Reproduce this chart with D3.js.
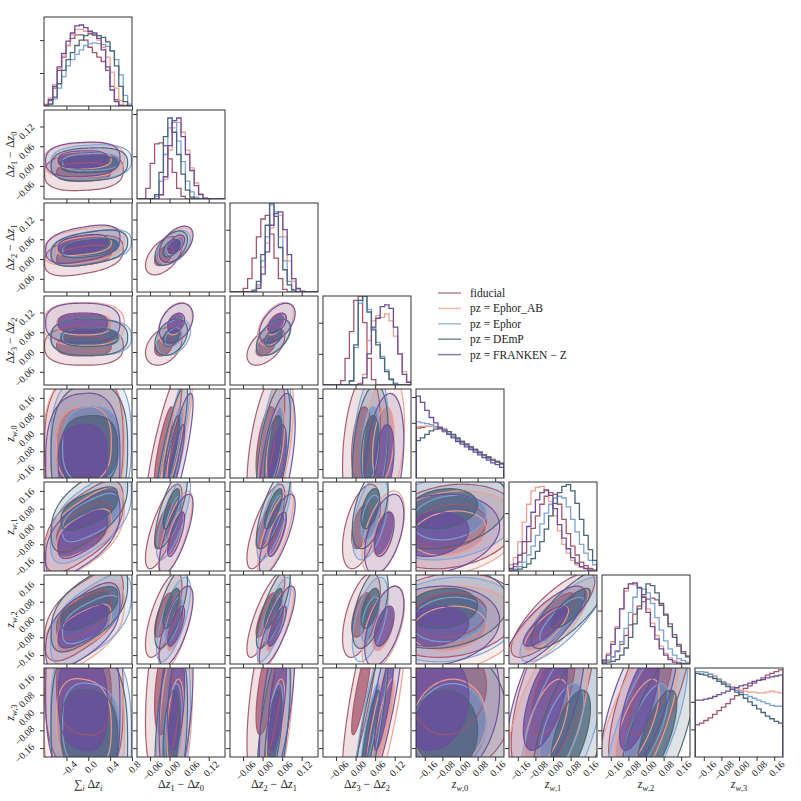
<!DOCTYPE html>
<html>
<head>
<meta charset="utf-8">
<script src="https://cdnjs.cloudflare.com/ajax/libs/d3/7.8.5/d3.min.js"></script>
<style>
  body { margin: 0; background: #fff; }
  text { font-family: "Liberation Serif", "DejaVu Serif", serif; fill: #222; }
</style>
</head>
<body>
<svg id="chart" width="801" height="801"></svg>
<script>
// series, in the order they were drawn (last one on top)
var seriesNames = ["fiducial", "pz = Ephor_AB", "pz = Ephor", "pz = DEmP", "pz = FRANKEN \u2212 Z"];
var seriesColors = ["#a4556b", "#ef9f8f", "#7ba3d6", "#4b6476", "#6a4e9c"];

// parameter ranges and ticks
var domains = [[-0.81, 0.8], [-0.1, 0.17], [-0.1, 0.17], [-0.1, 0.17],
               [-0.2, 0.2], [-0.2, 0.2], [-0.2, 0.2], [-0.2, 0.2]];
var ticksSum = [-0.4, 0.0, 0.4, 0.8];
var ticksDz = [-0.06, 0.0, 0.06, 0.12];
var ticksZw = [-0.16, -0.08, 0.0, 0.08, 0.16];
var diagTicks = [[0.37, 0.74], [0.48, 0.955], [0.35, 0.7], [0.35, 0.7],
                 [0.3, 0.62, 0.91], [0.34, 0.65], [0.3, 0.6], [0.31, 0.62]];

// 1D histograms, 20 bins over each range, height as fraction of panel
// rows: fiducial, Ephor_AB, Ephor, DEmP, FRANKEN-Z
var hist0 = [
  [0.01,0.06,0.2,0.4,0.55,0.68,0.76,0.8,0.8,0.74,0.66,0.6,0.55,0.5,0.4,0.22,0.07,0.01,0,0],
  [0.02,0.09,0.24,0.42,0.56,0.68,0.8,0.86,0.86,0.84,0.82,0.79,0.74,0.66,0.55,0.38,0.2,0.06,0.01,0],
  [0,0.02,0.08,0.2,0.33,0.45,0.52,0.58,0.63,0.68,0.7,0.71,0.7,0.69,0.67,0.62,0.52,0.35,0.12,0.02],
  [0,0.02,0.1,0.25,0.4,0.52,0.6,0.68,0.74,0.79,0.81,0.8,0.79,0.77,0.72,0.62,0.45,0.22,0.05,0],
  [0.01,0.07,0.22,0.44,0.59,0.73,0.82,0.9,0.91,0.88,0.84,0.82,0.76,0.63,0.44,0.18,0.05,0,0,0]];
var hist1 = [
  [0,0,0.12,0.4,0.62,0.63,0.6,0.45,0.3,0.12,0.03,0,0,0,0,0,0,0,0,0],
  [0,0,0,0,0,0.04,0.22,0.55,0.8,0.86,0.75,0.55,0.35,0.18,0.06,0.01,0,0,0,0],
  [0,0,0,0,0.03,0.2,0.5,0.8,0.86,0.65,0.42,0.2,0.08,0.02,0,0,0,0,0,0],
  [0,0,0,0,0.05,0.3,0.7,0.91,0.75,0.5,0.28,0.1,0.02,0,0,0,0,0,0,0],
  [0,0,0,0,0,0.05,0.25,0.6,0.88,0.91,0.7,0.5,0.32,0.15,0.05,0.01,0,0,0,0]];
var hist2 = [
  [0,0,0,0.04,0.15,0.38,0.62,0.82,0.86,0.65,0.38,0.15,0.03,0,0,0,0,0,0,0],
  [0,0,0,0,0,0,0.06,0.28,0.55,0.72,0.9,0.86,0.62,0.35,0.12,0.03,0,0,0,0],
  [0,0,0,0,0,0,0.08,0.35,0.62,0.98,0.9,0.62,0.35,0.12,0.03,0,0,0,0,0],
  [0,0,0,0,0,0.02,0.12,0.42,0.75,1.0,0.85,0.5,0.25,0.08,0.02,0,0,0,0,0],
  [0,0,0,0,0,0,0.04,0.2,0.45,0.75,0.88,0.9,0.7,0.42,0.15,0.04,0.01,0,0,0]];
var hist3 = [
  [0,0,0,0,0.05,0.3,0.6,0.95,1.0,0.7,0.3,0.06,0,0,0,0,0,0,0,0],
  [0,0,0,0,0,0,0,0,0.02,0.12,0.5,0.72,0.78,0.76,0.8,0.72,0.55,0.35,0.15,0.04],
  [0,0,0,0,0,0,0.04,0.42,0.92,1.0,0.85,0.64,0.48,0.32,0.17,0.07,0.02,0,0,0],
  [0,0,0,0,0,0,0.05,0.45,0.95,1.0,0.82,0.62,0.45,0.3,0.15,0.06,0.01,0,0,0],
  [0,0,0,0,0,0,0,0,0.01,0.08,0.35,0.65,0.75,0.88,0.9,0.86,0.65,0.35,0.12,0.03]];
var hist4 = [
  [0.56,0.57,0.58,0.58,0.57,0.55,0.52,0.5,0.47,0.44,0.41,0.38,0.35,0.32,0.29,0.26,0.24,0.21,0.19,0.17],
  [0.58,0.58,0.58,0.58,0.57,0.55,0.52,0.49,0.46,0.43,0.4,0.37,0.34,0.31,0.28,0.26,0.23,0.21,0.19,0.17],
  [0.63,0.62,0.61,0.6,0.58,0.56,0.53,0.5,0.47,0.43,0.4,0.37,0.34,0.31,0.28,0.25,0.22,0.2,0.18,0.16],
  [0.42,0.45,0.49,0.53,0.55,0.56,0.55,0.52,0.49,0.45,0.41,0.38,0.35,0.32,0.29,0.26,0.23,0.2,0.18,0.16],
  [0.92,0.85,0.76,0.68,0.62,0.57,0.53,0.49,0.45,0.41,0.38,0.35,0.32,0.29,0.26,0.23,0.2,0.17,0.15,0.12]];
var hist5 = [
  [0.02,0.05,0.1,0.2,0.33,0.48,0.62,0.75,0.84,0.88,0.86,0.75,0.58,0.42,0.28,0.18,0.1,0.06,0.03,0.01],
  [0.07,0.15,0.33,0.55,0.75,0.9,0.94,0.95,0.9,0.78,0.62,0.45,0.3,0.2,0.12,0.07,0.04,0.02,0.01,0],
  [0.01,0.02,0.05,0.1,0.18,0.28,0.4,0.53,0.65,0.75,0.82,0.84,0.82,0.72,0.58,0.44,0.3,0.2,0.12,0.07],
  [0,0.01,0.02,0.04,0.08,0.14,0.22,0.33,0.47,0.62,0.76,0.88,0.95,0.97,0.9,0.76,0.58,0.4,0.24,0.12],
  [0.03,0.08,0.18,0.33,0.5,0.66,0.8,0.88,0.91,0.85,0.7,0.52,0.37,0.25,0.15,0.09,0.05,0.03,0.01,0]];
var hist6 = [
  [0.02,0.04,0.08,0.14,0.22,0.32,0.44,0.56,0.65,0.7,0.73,0.74,0.72,0.66,0.56,0.45,0.33,0.22,0.14,0.09],
  [0.05,0.12,0.25,0.42,0.62,0.82,0.9,0.89,0.85,0.76,0.62,0.46,0.32,0.2,0.12,0.07,0.04,0.02,0.01,0],
  [0.02,0.04,0.08,0.15,0.25,0.4,0.58,0.75,0.85,0.84,0.8,0.68,0.52,0.38,0.26,0.17,0.1,0.06,0.04,0.02],
  [0.01,0.02,0.03,0.05,0.1,0.18,0.3,0.45,0.62,0.78,0.9,0.88,0.8,0.68,0.55,0.42,0.3,0.2,0.12,0.08],
  [0.04,0.1,0.22,0.4,0.62,0.85,0.9,0.91,0.86,0.75,0.58,0.42,0.28,0.17,0.1,0.05,0.02,0.01,0,0]];
var hist7 = [
  [0.36,0.38,0.41,0.44,0.48,0.52,0.56,0.6,0.65,0.69,0.73,0.77,0.8,0.83,0.86,0.89,0.92,0.94,0.96,0.98],
  [0.96,0.96,0.95,0.93,0.91,0.88,0.85,0.82,0.79,0.77,0.75,0.74,0.73,0.73,0.72,0.72,0.73,0.74,0.73,0.72],
  [0.96,0.96,0.95,0.93,0.9,0.87,0.84,0.81,0.78,0.75,0.72,0.7,0.68,0.66,0.64,0.62,0.6,0.58,0.57,0.57],
  [0.94,0.93,0.92,0.9,0.88,0.85,0.82,0.79,0.76,0.73,0.7,0.66,0.62,0.58,0.54,0.5,0.46,0.43,0.4,0.38],
  [0.64,0.64,0.65,0.66,0.68,0.7,0.72,0.74,0.76,0.78,0.8,0.81,0.83,0.85,0.86,0.87,0.89,0.9,0.91,0.92]];
var hists = [hist0, hist1, hist2, hist3, hist4, hist5, hist6, hist7];

// 2D contours: centre, 1-sigma and 2-sigma half extents per parameter (one value per series)
var centers = [
  [-0.08, -0.08, 0.05, 0.02, -0.1],
  [-0.018, 0.018, 0.012, 0.005, 0.02],
  [0.01, 0.04, 0.035, 0.033, 0.045],
  [0.018, 0.085, 0.045, 0.045, 0.088],
  [-0.05, -0.05, -0.05, -0.08, -0.12],
  [0.0, -0.03, 0.04, 0.08, -0.035],
  [0.02, -0.04, 0.0, 0.05, -0.03],
  [0.1, -0.05, -0.07, -0.1, 0.05]];
var innerR = [
  [0.5, 0.5, 0.52, 0.52, 0.45],
  [0.028, 0.026, 0.026, 0.025, 0.026],
  [0.03, 0.028, 0.027, 0.027, 0.028],
  [0.03, 0.033, 0.028, 0.028, 0.03],
  [0.17, 0.17, 0.17, 0.16, 0.16],
  [0.1, 0.1, 0.1, 0.09, 0.1],
  [0.1, 0.1, 0.1, 0.09, 0.09],
  [0.2, 0.2, 0.2, 0.2, 0.22]];
var outerR = [
  [0.72, 0.74, 0.74, 0.7, 0.68],
  [0.056, 0.052, 0.052, 0.05, 0.052],
  [0.058, 0.055, 0.052, 0.052, 0.055],
  [0.058, 0.065, 0.055, 0.055, 0.06],
  [0.32, 0.32, 0.32, 0.3, 0.3],
  [0.19, 0.19, 0.19, 0.18, 0.18],
  [0.19, 0.19, 0.19, 0.18, 0.18],
  [0.4, 0.4, 0.4, 0.4, 0.4]];
// correlation for each pair, row j = 1..7, column i < j
var rhoRows = [
  [0.1],
  [0.35, 0.5],
  [0.0, 0.35, 0.5],
  [0.05, 0.85, 0.55, 0.3],
  [0.6, 0.75, 0.75, 0.5, 0.2],
  [0.6, 0.7, 0.8, 0.55, 0.15, 0.8],
  [-0.1, 0.35, 0.6, 0.85, 0.1, 0.6, 0.7]];
var squareness = [0.75, 1, 1, 1, 1, 1, 1, 1];

var paramLabels = [
  [{t: "\u2211"}, {t: "i", s: 1, it: 1}, {t: " \u0394"}, {t: "z", it: 1}, {t: "i", s: 1, it: 1}],
  [{t: "\u0394"}, {t: "z", it: 1}, {t: "1", s: 1}, {t: " \u2212 \u0394"}, {t: "z", it: 1}, {t: "0", s: 1}],
  [{t: "\u0394"}, {t: "z", it: 1}, {t: "2", s: 1}, {t: " \u2212 \u0394"}, {t: "z", it: 1}, {t: "1", s: 1}],
  [{t: "\u0394"}, {t: "z", it: 1}, {t: "3", s: 1}, {t: " \u2212 \u0394"}, {t: "z", it: 1}, {t: "2", s: 1}],
  [{t: "z", it: 1}, {t: "w", s: 1, it: 1}, {t: ",0", s: 1}],
  [{t: "z", it: 1}, {t: "w", s: 1, it: 1}, {t: ",1", s: 1}],
  [{t: "z", it: 1}, {t: "w", s: 1, it: 1}, {t: ",2", s: 1}],
  [{t: "z", it: 1}, {t: "w", s: 1, it: 1}, {t: ",3", s: 1}]];

// layout
var nP = 8, x0 = 44, y0 = 17, step = 93, pw = 88, ph = 89;
var tickSets = [ticksSum, ticksDz, ticksDz, ticksDz, ticksZw, ticksZw, ticksZw, ticksZw];
var fmts = [d3.format(".1f")].concat(d3.range(7).map(function() { return d3.format(".2f"); }));

var svg = d3.select("#chart");
var defs = svg.append("defs");

var xScales = domains.map(function(d, i) {
  return d3.scaleLinear().domain(d).range([x0 + i * step, x0 + i * step + pw]);
});
var yScales = domains.map(function(d, j) {
  return d3.scaleLinear().domain(d).range([y0 + j * step + ph, y0 + j * step]);
});

function richText(sel, segs, size) {
  var shift = 0;
  segs.forEach(function(g) {
    var target = g.s ? size * 0.28 : 0;
    sel.append("tspan")
      .attr("dy", target - shift)
      .attr("font-size", g.s ? size * 0.7 : size)
      .attr("font-style", g.it ? "italic" : "normal")
      .text(g.t);
    shift = target;
  });
}

function ellipsePts(i, j, s, radii) {
  var rr = rhoRows[j - 1][i];
  var e = Math.min(squareness[i], squareness[j]);
  var pow = function(a) { return Math.sign(a) * Math.pow(Math.abs(a), e); };
  return d3.range(120).map(function(k) {
    var t = k / 120 * 2 * Math.PI;
    var u = pow(Math.cos(t)), w = pow(Math.sin(t));
    var v = rr * u + Math.sqrt(1 - rr * rr) * w;
    return [xScales[i](centers[i][s] + radii[i][s] * u),
            yScales[j](centers[j][s] + radii[j][s] * v)];
  });
}

var closedLine = d3.line().curve(d3.curveCardinalClosed.tension(0.3));

function drawContours(body, i, j) {
  var fills = body.append("g");
  var lines = body.append("g");
  seriesNames.forEach(function(name, s) {
    var outer = closedLine(ellipsePts(i, j, s, outerR));
    var inner = closedLine(ellipsePts(i, j, s, innerR));
    // ring between the two levels, then the core
    fills.append("path").attr("d", outer + inner)
      .attr("fill-rule", "evenodd")
      .attr("fill", seriesColors[s]).attr("fill-opacity", 0.18);
    fills.append("path").attr("d", inner)
      .attr("fill", seriesColors[s]).attr("fill-opacity", 0.8);
    [outer, inner].forEach(function(d) {
      lines.append("path").attr("d", d)
        .attr("fill", "none").attr("stroke", seriesColors[s])
        .attr("stroke-width", 1.2).attr("stroke-opacity", 0.95);
    });
  });
}

function drawHist(body, i, hy) {
  var dom = domains[i];
  var edges = d3.range(21).map(function(k) { return dom[0] + k * (dom[1] - dom[0]) / 20; });
  hists[i].forEach(function(h, s) {
    var pts = [[edges[0], 0]];
    h.forEach(function(v, k) { pts.push([edges[k], v]); pts.push([edges[k + 1], v]); });
    pts.push([edges[20], 0]);
    body.append("path")
      .attr("d", d3.line().x(function(p) { return xScales[i](p[0]); }).y(function(p) { return hy(p[1]); })(pts))
      .attr("fill", "none").attr("stroke", seriesColors[s]).attr("stroke-width", 1.3);
  });
}

function rotatedLabels(ax, place) {
  ax.selectAll(".tick text").each(function() {
    var t = d3.select(this);
    t.attr("x", null).attr("y", null).attr("dy", "0.35em")
      .attr("text-anchor", "middle");
    var len = this.getComputedTextLength();
    var w = (len + 7) * Math.SQRT1_2;
    var p = place(w);
    t.attr("transform", "translate(" + p[0] + "," + p[1] + ") rotate(-45)");
  });
}

function drawPanel(i, j) {
  var px = x0 + i * step, py = y0 + j * step;
  var g = svg.append("g");
  var clipId = "clip" + j + "_" + i;
  defs.append("clipPath").attr("id", clipId).append("rect")
    .attr("x", px).attr("y", py).attr("width", pw).attr("height", ph);
  var body = g.append("g").attr("clip-path", "url(#" + clipId + ")");

  var yAxisScale;
  if (i === j) {
    yAxisScale = d3.scaleLinear().domain([0, 1]).range([py + ph, py]);
    drawHist(body, i, yAxisScale);
  } else {
    yAxisScale = yScales[j];
    drawContours(body, i, j);
  }

  g.append("rect").attr("x", px).attr("y", py).attr("width", pw).attr("height", ph)
    .attr("fill", "none").attr("stroke", "#333").attr("stroke-width", 1);

  // bottom ticks
  var bottomRow = (j === nP - 1);
  var xa = g.append("g").attr("transform", "translate(0," + (py + ph) + ")")
    .call(d3.axisBottom(xScales[i]).tickValues(tickSets[i]).tickSize(4).tickSizeOuter(0)
      .tickFormat(bottomRow ? fmts[i] : ""));
  xa.select(".domain").remove();
  xa.attr("color", "#333").attr("font-family", null).attr("font-size", 10);
  if (bottomRow) {
    rotatedLabels(xa, function(w) { return [2, 3 + w / 2]; });
  }

  // left ticks
  var leftCol = (i === 0 && j > 0);
  var ya = g.append("g").attr("transform", "translate(" + px + ",0)")
    .call(d3.axisLeft(yAxisScale).tickValues(i === j ? diagTicks[i] : tickSets[j])
      .tickSize(4).tickSizeOuter(0).tickFormat(leftCol ? fmts[j] : ""));
  ya.select(".domain").remove();
  ya.attr("color", "#333").attr("font-family", null).attr("font-size", 10);
  if (leftCol) {
    rotatedLabels(ya, function(w) { return [-9 - w / 2, 4.5]; });
  }
}

for (var j = 0; j < nP; j++) {
  for (var i = 0; i <= j; i++) drawPanel(i, j);
}

// axis titles
paramLabels.forEach(function(lab, k) {
  var tx = svg.append("text")
    .attr("x", x0 + k * step + pw / 2).attr("y", 788)
    .attr("text-anchor", "middle").attr("font-size", 12);
  richText(tx, lab, 12);
  if (k > 0) {
    var ty = svg.append("text")
      .attr("text-anchor", "middle").attr("font-size", 12)
      .attr("transform", "translate(14," + (y0 + k * step + ph / 2) + ") rotate(-90)");
    richText(ty, lab, 12);
  }
});

// legend
var legend = svg.append("g").attr("transform", "translate(438,293)");
seriesNames.forEach(function(name, s) {
  var row = legend.append("g").attr("transform", "translate(0," + (s * 15.4) + ")");
  row.append("line").attr("x1", 0).attr("x2", 23).attr("y1", 0).attr("y2", 0)
    .attr("stroke", seriesColors[s]).attr("stroke-width", 1.5).attr("stroke-opacity", 0.75);
  row.append("text").attr("x", 32).attr("y", 4).attr("font-size", 11.5).attr("fill", "#333").text(name);
});
</script>
</body>
</html>
